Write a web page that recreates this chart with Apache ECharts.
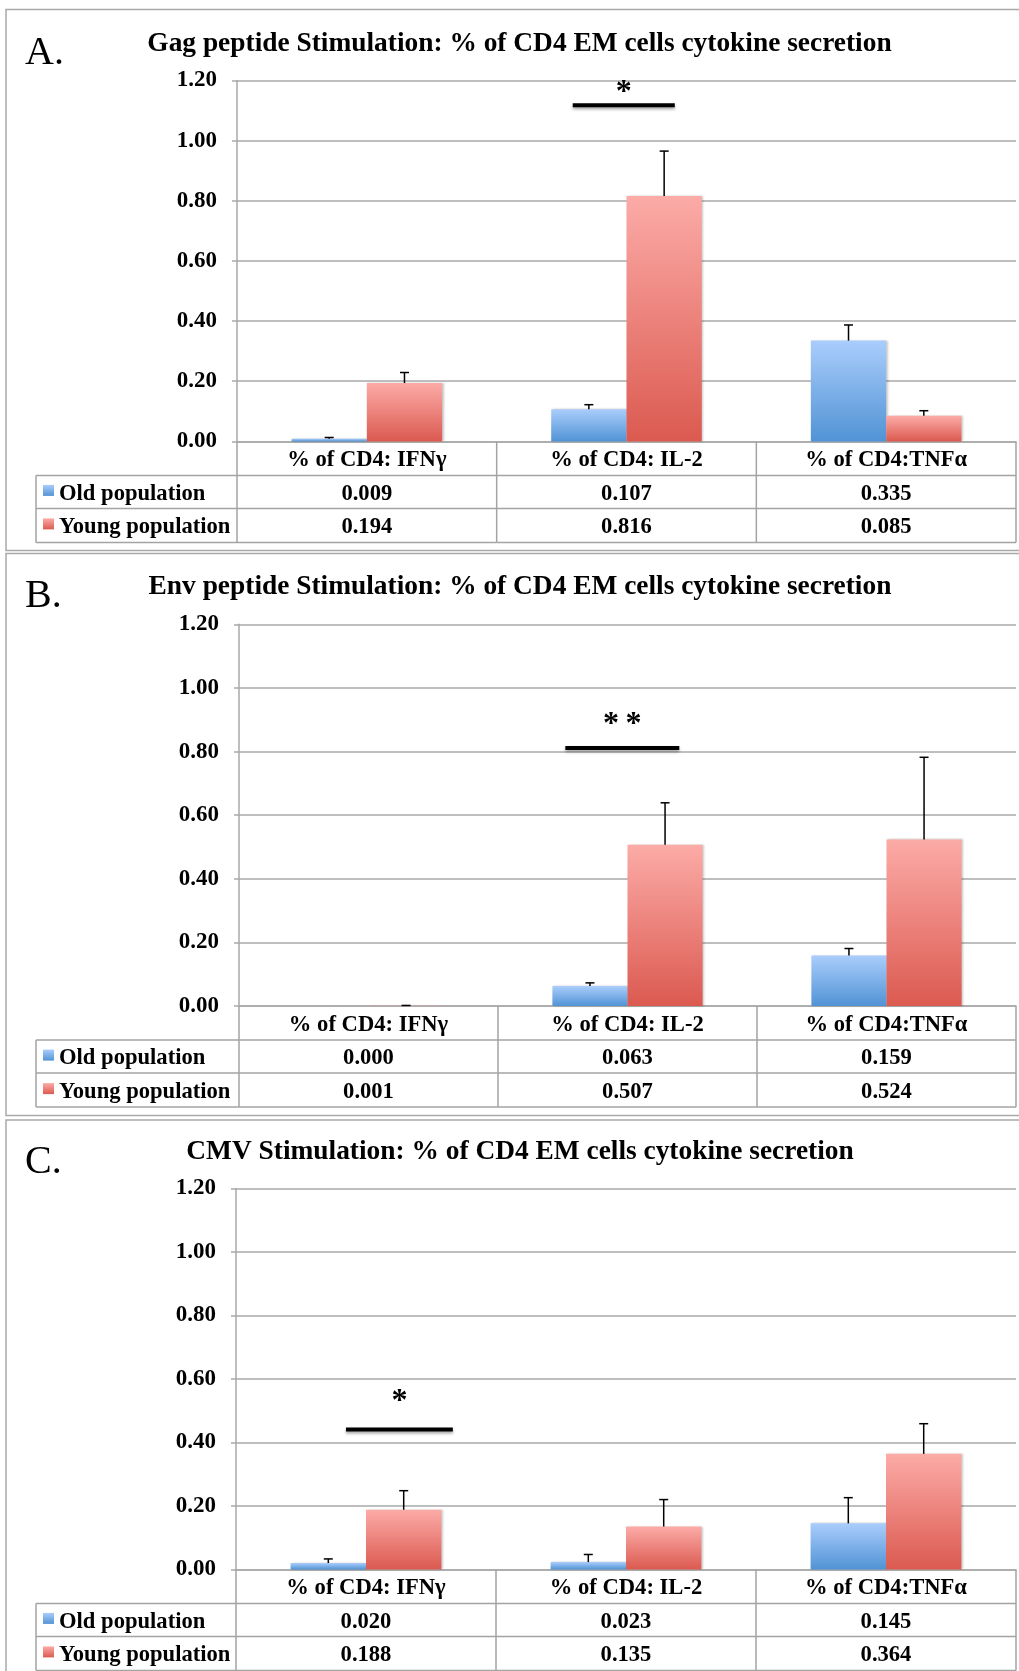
<!DOCTYPE html>
<html>
<head>
<meta charset="utf-8">
<script src="https://cdn.jsdelivr.net/npm/echarts@6/dist/echarts.min.js"></script>
<style>
  html, body { margin: 0; padding: 0; background: #fff; }
  #chart { width: 1019px; height: 1671px; }
</style>
</head>
<body>
<div id="chart"></div>
<script>
// ---- data ----
const categories = ['% of CD4: IFNγ', '% of CD4: IL-2', '% of CD4:TNFα'];
const seriesNames = ['Old population', 'Young population'];
const yTicks = [0, 0.2, 0.4, 0.6, 0.8, 1.0, 1.2];

const panelLetters = ['A.', 'B.', 'C.'];
const panelTitles = [
  'Gag peptide Stimulation: % of CD4 EM cells cytokine secretion',
  'Env peptide Stimulation: % of CD4 EM cells cytokine secretion',
  'CMV Stimulation: % of CD4 EM cells cytokine secretion'
];

const gagOld = [0.009, 0.107, 0.335];
const gagYoung = [0.194, 0.816, 0.085];
const gagOldErr = [0.004, 0.015, 0.052];
const gagYoungErr = [0.035, 0.149, 0.017];

const envOld = [0.000, 0.063, 0.159];
const envYoung = [0.001, 0.507, 0.524];
const envOldErr = [0, 0.010, 0.022];
const envYoungErr = [0.001, 0.132, 0.258];

const cmvOld = [0.020, 0.023, 0.145];
const cmvYoung = [0.188, 0.135, 0.364];
const cmvOldErr = [0.013, 0.024, 0.081];
const cmvYoungErr = [0.060, 0.085, 0.095];

// significance brackets: category, bracket level, marker level, marker
const sigCategory = [1, 1, 0];
const sigLevel = [1.117, 0.811, 0.441];
const sigMarkLevel = [1.177, 0.901, 0.544];
const sigMark = ['*', '*\u2009*', '*'];

// ---- layout & style ----
const SERIF = '"Liberation Serif", "Times New Roman", serif';
const GRID_LINE = '#a9a9a9';
const TABLE_LINE = '#a3a3a3';
const CAT_GAP = 0.42;
const TABLE_LEFT = 36;
const ROW_H = [34, 33, 34];
const TABLE_FONT = 'bold 22.6px ' + SERIF;
const STAR_SIZE = 32;

const panels = [
  { frameTop: 9.5, frameBottom: 550.5, letterY: 53.8, titleX: 519.5, titleY: 43.6,
    grid: { left: 237, top: 80.4, width: 779, height: 361 }, sigSpan: [-0.207, 0.186] },
  { frameTop: 553.5, frameBottom: 1115.5, letterY: 596.2, titleX: 520, titleY: 587.3,
    grid: { left: 239, top: 624.3, width: 777, height: 381.8 }, sigSpan: [-0.240, 0.200] },
  { frameTop: 1120, frameBottom: 1760, letterY: 1162.5, titleX: 520, titleY: 1151.8,
    grid: { left: 236, top: 1188.5, width: 780, height: 380.9 }, sigSpan: [-0.077, 0.334] }
];

const panelData = [
  { old: gagOld, young: gagYoung, oldErr: gagOldErr, youngErr: gagYoungErr },
  { old: envOld, young: envYoung, oldErr: envOldErr, youngErr: envYoungErr },
  { old: cmvOld, young: cmvYoung, oldErr: cmvOldErr, youngErr: cmvYoungErr }
];

const blueFill = () => new echarts.graphic.LinearGradient(0, 0, 0, 1, [
  { offset: 0, color: '#aacdfc' }, { offset: 1, color: '#5193d5' }]);
const redFill = () => new echarts.graphic.LinearGradient(0, 0, 0, 1, [
  { offset: 0, color: '#fcaba7' }, { offset: 1, color: '#db5a50' }]);

// error bars: upward whisker with a cap, centred on each bar
function errorItem(params, api) {
  const i = api.value(0), v = api.value(1), e = api.value(2), side = api.value(3);
  if (!(e > 0)) return null;
  const base = api.coord([i, v]);
  const top = api.coord([i, v + e]);
  const bw = api.size([1, 0])[0] * (1 - CAT_GAP) / 2;
  const x = base[0] + side * bw / 2;
  const st = { stroke: '#000', lineWidth: 1.5 };
  return {
    type: 'group',
    children: [
      { type: 'line', shape: { x1: x, y1: base[1], x2: x, y2: top[1] }, style: st },
      { type: 'line', shape: { x1: x - 4.5, y1: top[1], x2: x + 4.5, y2: top[1] }, style: st }
    ]
  };
}

// data table under each plot, with the series key in the first column
function makeTableItem(p) {
  return function (params, api) {
    const i = api.value(0);
    const c = api.coord([i, 0]);
    const w = api.size([1, 0])[0];
    const x0 = c[0] - w / 2, x1 = c[0] + w / 2, y0 = c[1];
    const yH = y0 + ROW_H[0], yO = yH + ROW_H[1], yY = yO + ROW_H[2];
    const children = [];
    const line = (ax, ay, bx, by) => children.push({
      type: 'line', shape: { x1: ax, y1: ay, x2: bx, y2: by },
      style: { stroke: TABLE_LINE, lineWidth: 1.5 }
    });
    const text = (t, x, y, align) => children.push({
      type: 'text',
      style: { text: t, x: x, y: y, align: align, verticalAlign: 'middle',
               font: TABLE_FONT, fill: '#000' }
    });
    line(x1, y0, x1, yY);
    line(x0, yH, x1, yH);
    line(x0, yO, x1, yO);
    line(x0, yY, x1, yY);
    text(categories[i], c[0], (y0 + yH) / 2 + 2, 'center');
    text(api.value(1).toFixed(3), c[0], (yH + yO) / 2 + 2, 'center');
    text(api.value(2).toFixed(3), c[0], (yO + yY) / 2 + 2, 'center');
    if (i === 0) {
      line(x0, y0, x0, yY);
      line(TABLE_LEFT, yH, x0, yH);
      line(TABLE_LEFT, yO, x0, yO);
      line(TABLE_LEFT, yY, x0, yY);
      line(TABLE_LEFT, yH, TABLE_LEFT, yY);
      const rows = [[yH, yO, blueFill()], [yO, yY, redFill()]];
      rows.forEach((r, k) => {
        const mid = (r[0] + r[1]) / 2;
        children.push({ type: 'rect', shape: { x: 43, y: mid - 7, width: 11, height: 11 },
                        style: { fill: r[2] } });
        text(seriesNames[k], 59, mid + 2, 'left');
      });
    }
    return { type: 'group', children };
  };
}

// significance bracket with its star marker
function makeSigItem(p) {
  return function (params, api) {
    const cat = api.value(0);
    const c = api.coord([cat, api.value(1)]);
    const m = api.coord([cat, api.value(2)]);
    const w = api.size([1, 0])[0];
    const xa = c[0] + panels[p].sigSpan[0] * w;
    const xb = c[0] + panels[p].sigSpan[1] * w;
    return {
      type: 'group',
      children: [
        { type: 'rect', shape: { x: xa, y: c[1] - 2, width: xb - xa, height: 4 },
          style: { fill: '#000', shadowBlur: 3, shadowOffsetY: 2, shadowColor: 'rgba(0,0,0,0.35)' } },
        { type: 'text',
          style: { text: sigMark[p], x: (xa + xb) / 2, y: m[1] + 0.165 * STAR_SIZE, align: 'center',
                   verticalAlign: 'middle', font: 'bold ' + STAR_SIZE + 'px ' + SERIF, fill: '#000' } }
      ]
    };
  };
}

const grids = [], xAxes = [], yAxes = [], series = [], graphics = [];

panels.forEach((pl, p) => {
  grids.push(Object.assign({ containLabel: false, outerBoundsMode: 'none' }, pl.grid));
  xAxes.push({
    type: 'category', gridIndex: p, data: categories,
    axisLine: { show: true, lineStyle: { color: GRID_LINE, width: 1.5 } },
    axisTick: { show: false }, axisLabel: { show: false }, splitLine: { show: false }
  });
  yAxes.push({
    type: 'value', gridIndex: p, min: yTicks[0], max: yTicks[yTicks.length - 1],
    interval: yTicks[1] - yTicks[0],
    axisLine: { show: true, lineStyle: { color: GRID_LINE, width: 1.5 } },
    axisTick: { show: true, inside: false, length: 5, lineStyle: { color: GRID_LINE, width: 1.5 } },
    axisLabel: { margin: 20, color: '#000', fontFamily: SERIF, fontWeight: 'bold', fontSize: 23,
                 formatter: v => v.toFixed(2) },
    splitLine: { show: true, lineStyle: { color: GRID_LINE, width: 1.5 } }
  });

  const d = panelData[p];
  const barShadow = { shadowBlur: 2, shadowOffsetX: 1.5, shadowColor: 'rgba(0,0,0,0.22)' };
  series.push({
    name: seriesNames[0], type: 'bar', xAxisIndex: p, yAxisIndex: p, data: d.old,
    barCategoryGap: (CAT_GAP * 100) + '%', barGap: '0%',
    itemStyle: Object.assign({ color: blueFill() }, barShadow), silent: true
  });
  series.push({
    name: seriesNames[1], type: 'bar', xAxisIndex: p, yAxisIndex: p, data: d.young,
    barCategoryGap: (CAT_GAP * 100) + '%', barGap: '0%',
    itemStyle: Object.assign({ color: redFill() }, barShadow), silent: true
  });
  const errData = [];
  categories.forEach((_, i) => {
    errData.push([i, d.old[i], d.oldErr[i], -1]);
    errData.push([i, d.young[i], d.youngErr[i], 1]);
  });
  series.push({
    type: 'custom', xAxisIndex: p, yAxisIndex: p, data: errData, z: 5, clip: false,
    encode: { x: 0, y: 1 }, renderItem: errorItem, silent: true
  });
  series.push({
    type: 'custom', xAxisIndex: p, yAxisIndex: p, z: 5, clip: false,
    data: [[sigCategory[p], sigLevel[p], sigMarkLevel[p]]],
    encode: { x: 0, y: 1 }, renderItem: makeSigItem(p), silent: true
  });
  series.push({
    type: 'custom', xAxisIndex: p, yAxisIndex: p, z: 4, clip: false,
    data: categories.map((_, i) => [i, d.old[i], d.young[i]]),
    encode: { x: 0, y: 1 }, renderItem: makeTableItem(p), silent: true
  });

  graphics.push({
    type: 'rect', shape: { x: 6, y: pl.frameTop, width: 1100, height: pl.frameBottom - pl.frameTop },
    style: { fill: 'none', stroke: '#a9a9a9', lineWidth: 1.5 }, silent: true
  });
  graphics.push({
    type: 'text', x: 25, y: pl.letterY,
    style: { text: panelLetters[p], font: 'normal 40px ' + SERIF, fill: '#000',
             align: 'left', verticalAlign: 'middle' }, silent: true
  });
  graphics.push({
    type: 'text', x: pl.titleX, y: pl.titleY,
    style: { text: panelTitles[p], font: 'bold 27.4px ' + SERIF, fill: '#000',
             align: 'center', verticalAlign: 'middle' }, silent: true
  });
});

const chart = echarts.init(document.getElementById('chart'), null, { renderer: 'canvas' });
chart.setOption({
  animation: false,
  backgroundColor: '#fff',
  grid: grids,
  xAxis: xAxes,
  yAxis: yAxes,
  series: series,
  graphic: graphics
});
</script>
</body>
</html>
